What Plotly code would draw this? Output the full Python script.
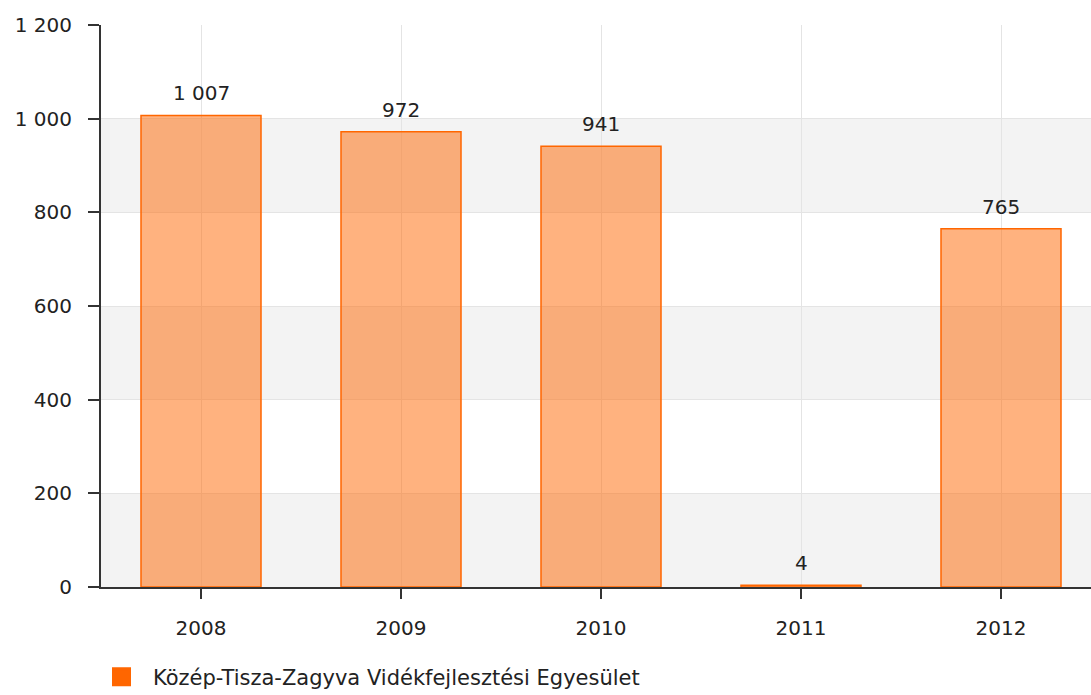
import plotly.graph_objects as go

years = ["2008", "2009", "2010", "2011", "2012"]
values = [1007, 972, 941, 4, 765]
series_name = "Közép-Tisza-Zagyva Vidékfejlesztési Egyesület"
y_ticks = [0, 200, 400, 600, 800, 1000, 1200]

ORANGE = "#ff6600"
FONT = "DejaVu Sans"
NUM_SIZE = 20

fig = go.Figure()

fig.add_trace(go.Bar(
    x=years, y=values, width=0.6,
    marker=dict(color="rgba(255,102,0,0.5)", line=dict(color=ORANGE, width=1.5)),
    showlegend=False, hoverinfo="x+y",
))

# legend entry
fig.add_trace(go.Scatter(
    x=[None], y=[None], mode="markers", name=series_name,
    marker=dict(symbol="square", size=16, color=ORANGE,
                line=dict(color=ORANGE, width=3)),
    showlegend=True,
))

# alternating bands
for i in range(len(y_ticks) - 1):
    if i % 2 == 0:
        fig.add_shape(type="rect", xref="paper", yref="y", x0=0, x1=1,
                      y0=y_ticks[i], y1=y_ticks[i + 1],
                      fillcolor="#f3f3f3", line=dict(width=0), layer="below")

for i, v in enumerate(values):
    fig.add_annotation(x=i, y=v, text=f"{v:,}".replace(",", " "), showarrow=False,
                       yanchor="middle", yshift=22,
                       font=dict(family=FONT, size=NUM_SIZE, color="#222"))

fig.update_layout(
    width=1091, height=695,
    margin=dict(l=101, r=0, t=25, b=108, autoexpand=False),
    paper_bgcolor="white", plot_bgcolor="rgba(0,0,0,0)",
    separators=", ",
    font=dict(family=FONT, size=NUM_SIZE, color="#222"),
    xaxis=dict(
        type="category", range=[-0.5, 4.45],
        showgrid=True, gridcolor="#e4e4e4", gridwidth=1,
        showline=True, linecolor="#333", linewidth=2,
        ticks="outside", ticklen=10, tickcolor="#333", tickwidth=2,
        ticklabelstandoff=12,
        tickfont=dict(family=FONT, size=NUM_SIZE, color="#222"),
        zeroline=False,
    ),
    yaxis=dict(
        range=[0, 1200], tickvals=y_ticks, tickformat=",d",
        showgrid=True, gridcolor="#e4e4e4", gridwidth=1,
        showline=True, linecolor="#333", linewidth=2,
        ticks="outside", ticklen=11, tickcolor="#333", tickwidth=2,
        ticklabelstandoff=12,
        tickfont=dict(family=FONT, size=NUM_SIZE, color="#222"),
        zeroline=False,
    ),
    legend=dict(
        orientation="h", x=-11 / 990, xanchor="left", y=-90 / 562, yanchor="middle",
        font=dict(family=FONT, size=21, color="#222"),
        itemwidth=53, bgcolor="rgba(0,0,0,0)",
    ),
)

fig.write_html(
    "out.html",
    config={"displayModeBar": False},
    post_script="document.body.style.margin='0';document.body.style.overflow='hidden';",
)
